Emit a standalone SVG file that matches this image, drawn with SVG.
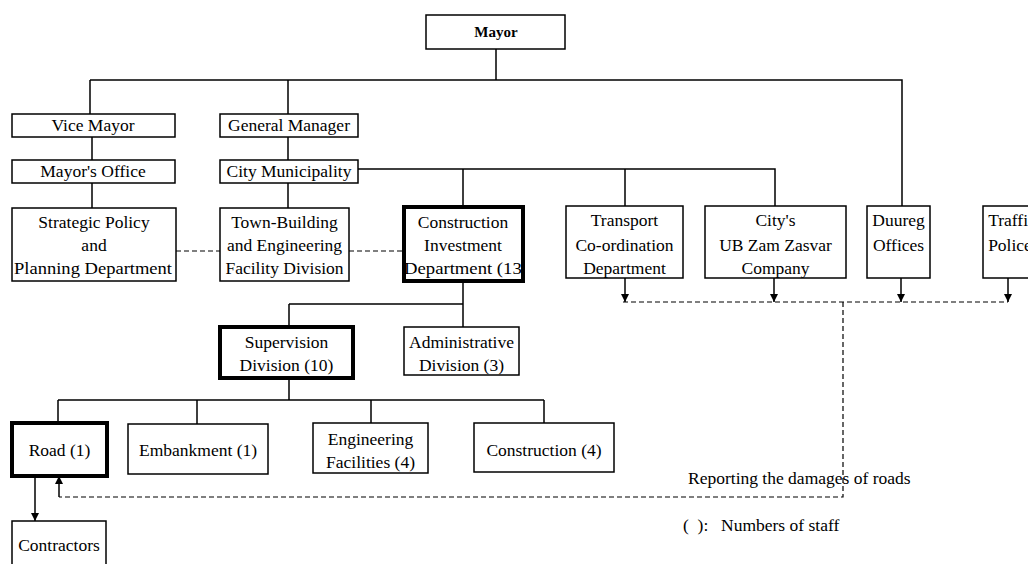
<svg xmlns="http://www.w3.org/2000/svg" width="1028" height="564" viewBox="0 0 1028 564">
<style>
.box{fill:#fff;stroke:#000;stroke-width:1.5}
.thick{stroke-width:4}
.ln{fill:none;stroke:#000;stroke-width:1.5}
.dash{stroke-dasharray:5 3;stroke-width:1.2}
.t{font-family:"Liberation Serif","Times New Roman",serif;font-size:17.5px;text-anchor:middle;fill:#000}
.b{font-weight:bold;font-size:15px}
.l{text-anchor:start}
</style>
<defs>
<marker id="arr" markerUnits="userSpaceOnUse" markerWidth="8" markerHeight="10" viewBox="0 0 10 10" refX="10" refY="5" orient="auto">
<path d="M0,0 L10,5 L0,10 z" fill="#000"/>
</marker>
<clipPath id="ciclip"><rect x="406" y="209" width="115" height="70"/></clipPath>
</defs>
<rect width="1028" height="564" fill="#fff"/>
<g id="connectors">
<path class="ln" d="M496,49 V80 M90,80 H902 V206 M90,80 V114 M288,80 V114 M92,137 V160 M92,183 V208 M288,137 V160 M288,183 V208"/>
<path class="ln" d="M358,169 H775 V206 M463,169 V207 M625,169 V206"/>
<path class="ln" d="M463,281 V327 M289,304 H463 M289,304 V327 M289,378 V400 M58,400 H544 M58,400 V423 M197,400 V424 M371,400 V423 M544,400 V423"/>
<path class="ln dash" d="M176,251 H220 M349,251 H404"/>
<path class="ln" d="M625,278 V302" marker-end="url(#arr)"/>
<path class="ln" d="M774,278 V302" marker-end="url(#arr)"/>
<path class="ln" d="M901,278 V302" marker-end="url(#arr)"/>
<path class="ln" d="M1008,278 V302" marker-end="url(#arr)"/>
<path class="ln dash" d="M623,302 H1008 M843,302 V497 H59"/>
<path class="ln" d="M59,497 V476" marker-end="url(#arr)"/>
<path class="ln" d="M35,476 V521" marker-end="url(#arr)"/>
</g>
<g id="mayor"><rect class="box" x="426" y="15" width="139" height="34"/><text class="t b" x="496" y="37">Mayor</text></g>
<g id="vice-mayor"><rect class="box" x="12" y="114" width="163" height="23"/><text class="t" x="93" y="131">Vice Mayor</text></g>
<g id="general-manager"><rect class="box" x="220" y="114" width="138" height="23"/><text class="t" x="289" y="131">General Manager</text></g>
<g id="mayors-office"><rect class="box" x="12" y="160" width="163" height="23"/><text class="t" x="93" y="177">Mayor's Office</text></g>
<g id="city-municipality"><rect class="box" x="220" y="160" width="138" height="23"/><text class="t" x="289" y="177">City Municipality</text></g>
<g id="strategic-policy"><rect class="box" x="12" y="208" width="164" height="73"/><text class="t" x="94" y="228">Strategic Policy</text><text class="t" x="94" y="251">and</text><text class="t" x="93" y="274" textLength="158" lengthAdjust="spacingAndGlyphs">Planning Department</text></g>
<g id="town-building"><rect class="box" x="220" y="208" width="129" height="73"/><text class="t" x="284.5" y="228">Town-Building</text><text class="t" x="284.5" y="251">and Engineering</text><text class="t" x="284.5" y="274">Facility Division</text></g>
<g id="construction-investment"><rect class="box thick" x="404" y="207" width="119" height="74"/><g clip-path="url(#ciclip)"><text class="t" x="463" y="228">Construction</text><text class="t" x="463" y="251">Investment</text><text class="t" x="466" y="274" textLength="124" lengthAdjust="spacingAndGlyphs">Department (13)</text></g></g>
<g id="transport"><rect class="box" x="566" y="206" width="117" height="72"/><text class="t" x="624.5" y="226">Transport</text><text class="t" x="624.5" y="251">Co-ordination</text><text class="t" x="624.5" y="274">Department</text></g>
<g id="citys-ub"><rect class="box" x="705" y="206" width="141" height="72"/><text class="t" x="775.5" y="226">City's</text><text class="t" x="775.5" y="251">UB Zam Zasvar</text><text class="t" x="775.5" y="274">Company</text></g>
<g id="duureg"><rect class="box" x="867" y="206" width="63" height="72"/><text class="t" x="898.5" y="226">Duureg</text><text class="t" x="898.5" y="251">Offices</text></g>
<g id="traffic-police"><rect class="box" x="983" y="206" width="60" height="72"/><text class="t" x="1012" y="226">Traffic</text><text class="t" x="1010" y="251">Police</text></g>
<g id="supervision"><rect class="box thick" x="220" y="327" width="133" height="51"/><text class="t" x="286.5" y="348">Supervision</text><text class="t" x="286.5" y="371">Division (10)</text></g>
<g id="administrative"><rect class="box" x="404" y="327" width="115" height="48"/><text class="t" x="461.5" y="348">Administrative</text><text class="t" x="461.5" y="371">Division (3)</text></g>
<g id="road"><rect class="box thick" x="12" y="423" width="95" height="53"/><text class="t" x="59.5" y="456">Road (1)</text></g>
<g id="embankment"><rect class="box" x="128" y="424" width="140" height="50"/><text class="t" x="198" y="456">Embankment (1)</text></g>
<g id="engineering-facilities"><rect class="box" x="313" y="423" width="115" height="50"/><text class="t" x="370.5" y="445">Engineering</text><text class="t" x="370.5" y="468">Facilities (4)</text></g>
<g id="construction"><rect class="box" x="474" y="423" width="140" height="49"/><text class="t" x="544" y="456">Construction (4)</text></g>
<g id="contractors"><rect class="box" x="12" y="521" width="94" height="50"/><text class="t" x="59" y="551">Contractors</text></g>
<g id="notes">
<text class="t l" x="688" y="484">Reporting the damages of roads</text>
<text class="t l" x="683" y="531" style="white-space:pre">(  ):</text>
<text class="t l" x="721" y="531">Numbers of staff</text>
</g>
</svg>
